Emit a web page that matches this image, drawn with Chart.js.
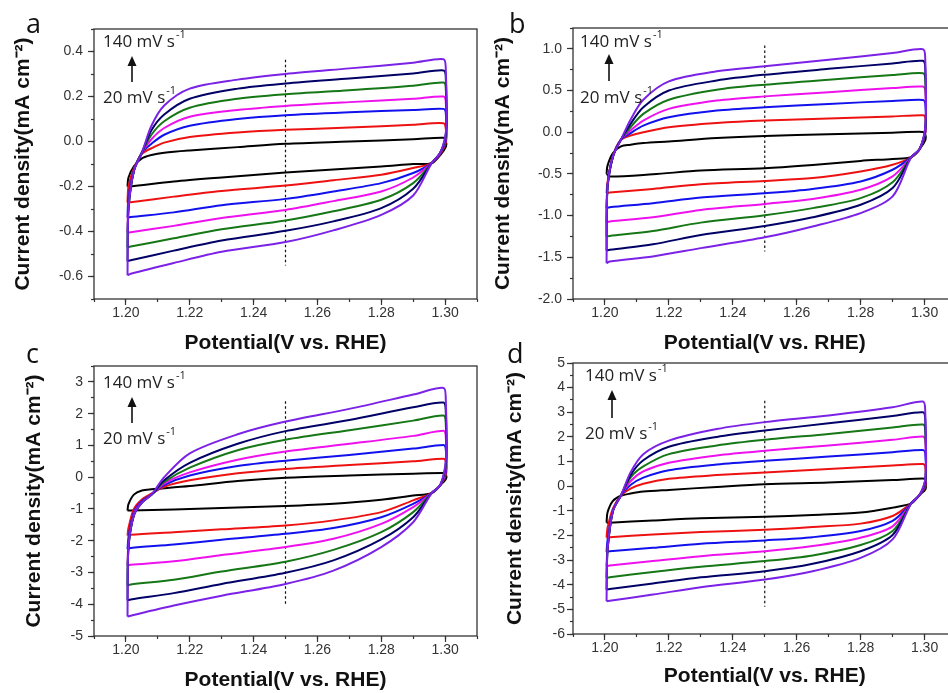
<!DOCTYPE html>
<html>
<head>
<meta charset="utf-8">
<title>CV curves at different scan rates</title>
<script src="https://cdn.jsdelivr.net/npm/chart.js@4.4.1/dist/chart.umd.min.js"></script>
<style>
  html, body { margin: 0; padding: 0; background: #fff; }
  #page { position: relative; width: 948px; height: 693px; overflow: hidden; background: #fff; }
  #page canvas { position: absolute; }
  .tag { position: absolute; font: 27px "Open Sans", sans-serif; line-height: 1; color: #111; }
</style>
</head>
<body>
<div id="page">
  <canvas id="cvA" width="480" height="356" style="left:0;top:0"></canvas>
  <canvas id="cvB" width="480" height="356" style="left:480px;top:0"></canvas>
  <canvas id="cvC" width="480" height="337" style="left:0;top:356px"></canvas>
  <canvas id="cvD" width="480" height="337" style="left:480px;top:356px"></canvas>
  <div class="tag" style="left:26px;top:9px">a</div>
  <div class="tag" style="left:509px;top:9px">b</div>
  <div class="tag" style="left:26px;top:339px">c</div>
  <div class="tag" style="left:507px;top:339px">d</div>
</div>
<script>
// scan rates, mV s-1 (slowest first)
const SCAN_RATES = [20, 40, 60, 80, 100, 120, 140];
const CURVE_COLORS = ['#000000', '#ee1111', '#1111ee', '#ee11ee', '#167716', '#000066', '#7b22e6'];

// potential along one closed CV loop: up the left edge, anodic branch,
// down the right edge, cathodic branch back to the start
const LOOP_X = [1.2005, 1.2008, 1.2025, 1.2050, 1.2080, 1.2120, 1.2200, 1.2350, 1.2500, 1.2700, 1.2900, 1.2995,
                1.3002, 1.3003, 1.2985, 1.2958, 1.2900, 1.2800, 1.2650, 1.2500, 1.2300, 1.2150, 1.2015, 1.2005];
const DASH_X = 1.25;

// panel a, current density (mA cm-2)
const A_20  = [-0.20, -0.16, -0.11, -0.075, -0.06, -0.05, -0.04, -0.025, -0.01, 0.0, 0.01, 0.017, 0.005, -0.022, -0.06, -0.096, -0.10, -0.111, -0.124, -0.138, -0.16, -0.178, -0.20, -0.20];
const A_40  = [-0.272, -0.20, -0.12, -0.055, -0.03, -0.005, 0.02, 0.04, 0.052, 0.062, 0.074, 0.081, 0.06, 0.0, -0.055, -0.096, -0.118, -0.148, -0.172, -0.196, -0.22, -0.245, -0.27, -0.272];
const A_60  = [-0.338, -0.25, -0.13, -0.05, -0.01, 0.03, 0.07, 0.10, 0.117, 0.13, 0.14, 0.145, 0.13, 0.01, -0.05, -0.096, -0.14, -0.185, -0.222, -0.255, -0.283, -0.315, -0.336, -0.338];
const A_80  = [-0.405, -0.28, -0.13, -0.05, 0.01, 0.06, 0.11, 0.14, 0.158, 0.175, 0.19, 0.20, 0.18, 0.02, -0.05, -0.096, -0.16, -0.222, -0.265, -0.304, -0.34, -0.375, -0.403, -0.405];
const A_100 = [-0.47, -0.30, -0.13, -0.05, 0.03, 0.09, 0.15, 0.19, 0.21, 0.228, 0.248, 0.262, 0.24, 0.03, -0.05, -0.096, -0.185, -0.259, -0.31, -0.351, -0.39, -0.43, -0.467, -0.47];
const A_120 = [-0.532, -0.30, -0.13, -0.05, 0.05, 0.12, 0.19, 0.235, 0.258, 0.28, 0.302, 0.316, 0.29, 0.04, -0.05, -0.096, -0.21, -0.296, -0.355, -0.397, -0.44, -0.485, -0.528, -0.532];
const A_140 = [-0.595, -0.30, -0.13, -0.05, 0.07, 0.16, 0.235, 0.275, 0.30, 0.325, 0.35, 0.366, 0.33, 0.05, -0.05, -0.096, -0.24, -0.326, -0.395, -0.447, -0.49, -0.54, -0.588, -0.595];
const DASH_A = [0.363, -0.551];

// panel b
const B_20  = [-0.50, -0.40, -0.25, -0.17, -0.15, -0.13, -0.11, -0.07, -0.045, -0.025, -0.005, 0.004, -0.02, -0.09, -0.20, -0.30, -0.32, -0.344, -0.392, -0.432, -0.46, -0.504, -0.532, -0.50];
const B_40  = [-0.73, -0.60, -0.28, -0.09, -0.04, 0.0, 0.06, 0.11, 0.14, 0.165, 0.19, 0.204, 0.18, 0.0, -0.20, -0.30, -0.39, -0.47, -0.55, -0.584, -0.624, -0.68, -0.724, -0.73];
const B_60  = [-0.91, -0.65, -0.29, -0.09, -0.01, 0.08, 0.18, 0.26, 0.30, 0.34, 0.375, 0.388, 0.35, 0.02, -0.20, -0.30, -0.45, -0.59, -0.68, -0.732, -0.784, -0.852, -0.90, -0.91];
const B_80  = [-1.08, -0.65, -0.29, -0.09, 0.02, 0.14, 0.28, 0.38, 0.43, 0.48, 0.53, 0.548, 0.50, 0.04, -0.20, -0.30, -0.53, -0.69, -0.80, -0.86, -0.932, -1.02, -1.07, -1.08];
const B_100 = [-1.25, -0.65, -0.29, -0.09, 0.06, 0.22, 0.39, 0.51, 0.57, 0.63, 0.685, 0.708, 0.65, 0.06, -0.20, -0.30, -0.60, -0.79, -0.91, -0.996, -1.084, -1.184, -1.244, -1.25];
const B_120 = [-1.42, -0.65, -0.29, -0.09, 0.10, 0.30, 0.50, 0.62, 0.69, 0.76, 0.825, 0.856, 0.78, 0.08, -0.20, -0.30, -0.67, -0.87, -1.02, -1.124, -1.232, -1.344, -1.41, -1.42];
const B_140 = [-1.57, -0.65, -0.29, -0.09, 0.15, 0.39, 0.61, 0.73, 0.79, 0.87, 0.95, 0.996, 0.90, 0.10, -0.20, -0.30, -0.77, -0.97, -1.13, -1.26, -1.39, -1.49, -1.55, -1.57];
const DASH_B = [1.04, -1.43];

// panel c
const C_20  = [-1.05, -0.85, -0.55, -0.42, -0.38, -0.35, -0.28, -0.12, -0.02, 0.05, 0.11, 0.13, 0.10, -0.05, -0.25, -0.50, -0.58, -0.71, -0.84, -0.91, -0.97, -1.02, -1.05, -1.05];
const C_40  = [-1.84, -1.60, -1.00, -0.70, -0.52, -0.30, -0.10, 0.12, 0.26, 0.38, 0.50, 0.58, 0.50, 0.10, -0.25, -0.50, -0.73, -1.10, -1.36, -1.52, -1.64, -1.73, -1.81, -1.84];
const C_60  = [-2.26, -1.90, -1.10, -0.75, -0.55, -0.25, 0.05, 0.35, 0.52, 0.70, 0.90, 1.01, 0.90, 0.20, -0.25, -0.50, -0.84, -1.26, -1.60, -1.78, -1.97, -2.12, -2.23, -2.26];
const C_80  = [-2.78, -2.10, -1.15, -0.78, -0.55, -0.20, 0.15, 0.55, 0.81, 1.05, 1.30, 1.46, 1.30, 0.30, -0.25, -0.50, -0.94, -1.47, -1.94, -2.20, -2.45, -2.65, -2.76, -2.78];
const C_100 = [-3.41, -2.20, -1.20, -0.80, -0.55, -0.15, 0.30, 0.85, 1.18, 1.48, 1.78, 1.94, 1.70, 0.40, -0.25, -0.50, -1.10, -1.73, -2.29, -2.66, -2.97, -3.23, -3.38, -3.41];
const C_120 = [-3.88, -2.20, -1.20, -0.80, -0.55, -0.10, 0.45, 1.05, 1.45, 1.80, 2.20, 2.35, 2.10, 0.50, -0.25, -0.50, -1.26, -1.96, -2.62, -3.01, -3.36, -3.65, -3.85, -3.88];
const C_140 = [-4.39, -2.20, -1.20, -0.80, -0.55, 0.00, 0.75, 1.35, 1.75, 2.15, 2.60, 2.81, 2.50, 0.60, -0.25, -0.50, -1.42, -2.20, -2.94, -3.36, -3.73, -4.04, -4.36, -4.39];
const DASH_C = [2.39, -4.05];

// panel d
const D_20  = [-1.48, -1.07, -0.60, -0.39, -0.30, -0.22, -0.15, -0.03, 0.08, 0.15, 0.25, 0.31, 0.25, -0.12, -0.35, -0.70, -0.87, -1.07, -1.17, -1.24, -1.30, -1.39, -1.48, -1.48];
const D_40  = [-2.09, -1.70, -0.90, -0.38, -0.10, 0.10, 0.30, 0.45, 0.56, 0.70, 0.84, 0.90, 0.80, 0.00, -0.35, -0.70, -1.21, -1.52, -1.66, -1.77, -1.86, -1.96, -2.07, -2.09];
const D_60  = [-2.66, -2.20, -1.00, -0.38, 0.05, 0.35, 0.65, 0.88, 1.03, 1.20, 1.38, 1.47, 1.35, 0.10, -0.35, -0.70, -1.41, -1.82, -2.07, -2.20, -2.34, -2.50, -2.64, -2.66];
const D_80  = [-3.25, -2.50, -1.00, -0.38, 0.20, 0.60, 0.95, 1.25, 1.44, 1.65, 1.88, 2.02, 1.85, 0.20, -0.35, -0.70, -1.63, -2.09, -2.43, -2.64, -2.84, -3.04, -3.22, -3.25];
const D_100 = [-3.72, -2.60, -1.00, -0.38, 0.35, 0.80, 1.30, 1.65, 1.88, 2.12, 2.38, 2.50, 2.30, 0.25, -0.35, -0.70, -1.82, -2.39, -2.81, -3.04, -3.27, -3.48, -3.70, -3.72];
const D_120 = [-4.20, -2.60, -1.00, -0.38, 0.45, 1.05, 1.60, 2.00, 2.26, 2.55, 2.85, 3.00, 2.75, 0.30, -0.35, -0.70, -1.98, -2.64, -3.15, -3.45, -3.70, -3.95, -4.17, -4.20];
const D_140 = [-4.67, -2.60, -1.00, -0.38, 0.56, 1.30, 1.85, 2.32, 2.60, 2.87, 3.20, 3.44, 3.10, 0.40, -0.35, -0.70, -2.16, -2.91, -3.45, -3.79, -4.10, -4.40, -4.65, -4.67];
const DASH_D = [3.47, -4.89];

const X_RANGE = [1.19, 1.31];
const X_TITLE = 'Potential(V vs. RHE)';
const Y_TITLE = 'Current density(mA cm\u207B\u00B2)';

const TICK_FONT = { family: '"Liberation Sans", Arial, sans-serif', size: 14 };
const TITLE_FONT = { family: '"Liberation Sans", Arial, sans-serif', size: 21, weight: 'bold' };
const NOTE_FONT = '"Open Sans", sans-serif';
const INK = '#333';

const PANELS = [
    { id: 'cvA', curves: [A_20, A_40, A_60, A_80, A_100, A_120, A_140], dash: DASH_A,
      y: [-0.7, 0.5], yMinor: 0.1, yMajor: 0.2, digits: 1,
      padTop: 29, padRight: 3, yWidth: 94, xHeight: 57, yTickPad: 5, yTitlePad: 11, xTitlePad: 0,
      note: { x: 9, y140: 13, y20: 69, ax: 38, aTop: 27, aBottom: 53 } },
    { id: 'cvB', curves: [B_20, B_40, B_60, B_80, B_100, B_120, B_140], dash: DASH_B,
      y: [-2.0, 1.25], yMinor: 0.25, yMajor: 0.5, digits: 1,
      padTop: 28, padRight: 3.5, yWidth: 93, xHeight: 57, yTickPad: 5, yTitlePad: 11, xTitlePad: 0,
      note: { x: 7, y140: 14, y20: 70, ax: 36, aTop: 26, aBottom: 53 } },
    { id: 'cvC', curves: [C_20, C_40, C_60, C_80, C_100, C_120, C_140], dash: DASH_C,
      y: [-5, 3.5], yMinor: 0.5, yMajor: 1, digits: 0,
      padTop: 10, padRight: 3, yWidth: 94, xHeight: 57, yTickPad: 5, yTitlePad: 22, xTitlePad: 0,
      note: { x: 9, y140: 17, y20: 73, ax: 38, aTop: 31, aBottom: 57 } },
    { id: 'cvD', curves: [D_20, D_40, D_60, D_80, D_100, D_120, D_140], dash: DASH_D,
      y: [-6, 5], yMinor: 0.5, yMajor: 1, digits: 0,
      padTop: 7, padRight: 3.5, yWidth: 93, xHeight: 59, yTickPad: 2, yTitlePad: 23, xTitlePad: 4,
      note: { x: 12, y140: 13, y20: 71, ax: 39, aTop: 27, aBottom: 55 } },
];

const isMajor = (v, step) => Math.abs(v / step - Math.round(v / step)) < 1e-6;

function fixSize(prop, size) {
    return s => {
        s[prop] = size;
        s.paddingLeft = s.paddingRight = s.paddingTop = s.paddingBottom = 0;
    };
}

function drawRate(ctx, x, y, rate) {
    const main = rate + ' mV s';
    ctx.font = '17px ' + NOTE_FONT;
    ctx.textBaseline = 'middle';
    ctx.fillText(main, x, y);
    const w = ctx.measureText(main).width;
    ctx.font = '11px ' + NOTE_FONT;
    ctx.fillText('-1', x + w + 1, y - 7);
}

// plot frame plus the "140 -> 20 mV s-1" note
const framePlugin = {
    id: 'frame',
    afterDraw(chart, args, opts) {
        const { ctx, chartArea: a } = chart;
        const n = opts.note;
        ctx.save();
        ctx.strokeStyle = INK;
        ctx.lineWidth = 1.3;
        ctx.strokeRect(a.left, a.top, a.right - a.left, a.bottom - a.top);

        ctx.fillStyle = '#222';
        drawRate(ctx, a.left + n.x, a.top + n.y140, SCAN_RATES[SCAN_RATES.length - 1]);
        drawRate(ctx, a.left + n.x, a.top + n.y20, SCAN_RATES[0]);

        const ax = a.left + n.ax;
        ctx.strokeStyle = '#111';
        ctx.lineWidth = 1.6;
        ctx.beginPath();
        ctx.moveTo(ax, a.top + n.aBottom);
        ctx.lineTo(ax, a.top + n.aTop + 6);
        ctx.stroke();
        ctx.fillStyle = '#111';
        ctx.beginPath();
        ctx.moveTo(ax, a.top + n.aTop);
        ctx.lineTo(ax - 4.5, a.top + n.aTop + 10);
        ctx.lineTo(ax + 4.5, a.top + n.aTop + 10);
        ctx.closePath();
        ctx.fill();
        ctx.restore();
    },
};

function buildPanel(p) {
    const datasets = [];
    // slowest scan drawn first, fastest (violet) ends up on top
    for (let i = p.curves.length - 1; i >= 0; i--) {
        datasets.push({
            label: SCAN_RATES[i] + ' mV/s',
            data: LOOP_X.map((x, k) => ({ x, y: p.curves[i][k] })),
            borderColor: CURVE_COLORS[i],
            borderWidth: 2,
            showLine: true,
            pointRadius: 0,
            tension: 0.3,
        });
    }
    datasets.push({
        label: 'marker',
        data: [{ x: DASH_X, y: p.dash[0] }, { x: DASH_X, y: p.dash[1] }],
        borderColor: '#111',
        borderWidth: 1.2,
        borderDash: [2.5, 2.5],
        showLine: true,
        pointRadius: 0,
    });

    const fmtY = v => {
        if (Math.abs(v) < 1e-9) v = 0;
        return v.toFixed(p.digits);
    };

    new Chart(document.getElementById(p.id), {
        type: 'scatter',
        data: { datasets },
        plugins: [framePlugin],
        options: {
            responsive: false,
            animation: false,
            events: [],
            layout: { padding: { top: p.padTop, right: p.padRight, left: 0, bottom: 0 } },
            plugins: {
                legend: { display: false },
                tooltip: { enabled: false },
                frame: { note: p.note },
            },
            scales: {
                x: {
                    type: 'linear', axis: 'x', position: 'bottom', weight: 1,
                    min: X_RANGE[0], max: X_RANGE[1],
                    ticks: {
                        stepSize: 0.01, autoSkip: false, maxRotation: 0, padding: 0,
                        color: INK, font: TICK_FONT,
                        callback: v => v.toFixed(2),
                    },
                    afterBuildTicks: s => { s.ticks = s.ticks.filter(t => isMajor(t.value, 0.02)); },
                    grid: { drawOnChartArea: false, tickLength: 6, tickColor: INK, tickWidth: 1.2 },
                    border: { display: false },
                    title: { display: true, text: X_TITLE, color: '#111', font: TITLE_FONT,
                             padding: { top: 0, bottom: p.xTitlePad } },
                    afterFit: fixSize('height', p.xHeight),
                },
                xMinor: {
                    type: 'linear', axis: 'x', position: 'bottom', weight: 0,
                    min: X_RANGE[0], max: X_RANGE[1],
                    ticks: { stepSize: 0.01, display: false },
                    grid: { drawOnChartArea: false, tickLength: 3, tickColor: INK, tickWidth: 1.2 },
                    border: { display: false },
                    afterFit: fixSize('height', 0),
                },
                y: {
                    type: 'linear', axis: 'y', position: 'left', weight: 1,
                    min: p.y[0], max: p.y[1],
                    ticks: {
                        stepSize: p.yMinor, autoSkip: false, padding: p.yTickPad,
                        color: INK, font: TICK_FONT, callback: fmtY,
                    },
                    afterBuildTicks: s => { s.ticks = s.ticks.filter(t => isMajor(t.value, p.yMajor)); },
                    grid: { drawOnChartArea: false, tickLength: 6, tickColor: INK, tickWidth: 1.2 },
                    border: { display: false },
                    title: { display: true, text: Y_TITLE, color: '#111', font: TITLE_FONT,
                             padding: { top: p.yTitlePad, bottom: 0 } },
                    afterFit: fixSize('width', p.yWidth),
                },
                yMinor: {
                    type: 'linear', axis: 'y', position: 'left', weight: 0,
                    min: p.y[0], max: p.y[1],
                    ticks: { stepSize: p.yMinor, display: false },
                    grid: { drawOnChartArea: false, tickLength: 3, tickColor: INK, tickWidth: 1.2 },
                    border: { display: false },
                    afterFit: fixSize('width', 0),
                },
            },
        },
    });
}

PANELS.forEach(buildPanel);
</script>
</body>
</html>
